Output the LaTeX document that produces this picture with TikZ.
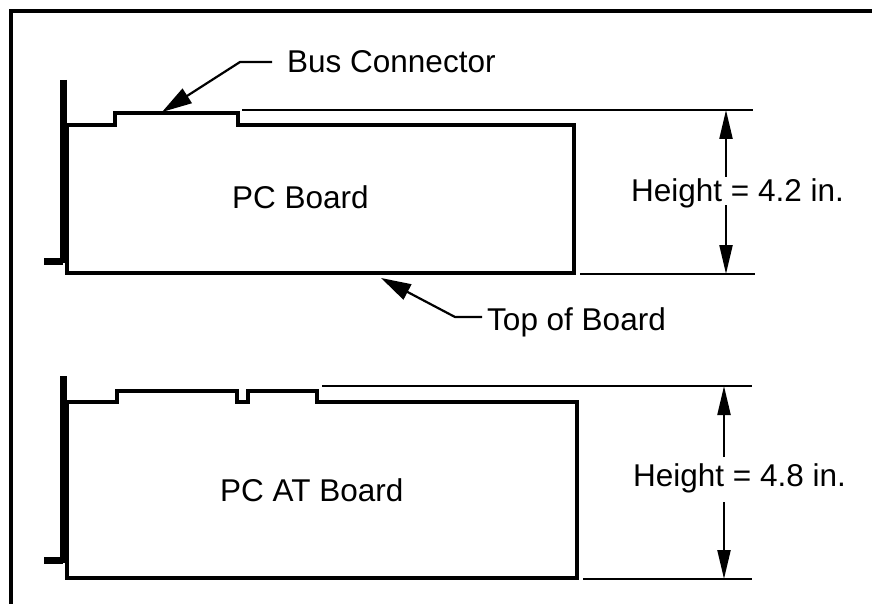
\documentclass[tikz,border=0pt]{standalone}
\usepackage{fontspec}
\setmainfont{Liberation Sans}
\usetikzlibrary{arrows.meta}
\tikzset{
  board/.style={line width=3.5pt, line join=miter},
  bracket/.style={line width=7pt},
  extline/.style={line width=2.2pt},
  leader/.style={line width=2.2pt, -{Triangle[length=30pt,width=17pt]}},
  dimarrow/.style={line width=2.2pt, -{Triangle[length=29pt,width=13pt]}},
  label/.style={inner sep=0pt, anchor=base west, font=\fontsize{31.5}{36}\selectfont},
}
\begin{document}
\begin{tikzpicture}[x=1pt, y=-1pt]
\useasboundingbox (0,0) rectangle (872,604);
% frame
\draw[line width=3.5pt] (11,620) -- (11,11) -- (880,11);

% PC board
\draw[bracket] (63,80) -- (63,263);
\draw[bracket] (44,261) -- (63,261);
\draw[board] (67,125) -- (115,125) -- (115,113) -- (238,113) -- (238,125)
  -- (574,125) -- (574,273) -- (67,273) -- cycle;
\node[label] (pc) at (232,208) {PC Board};

% PC AT board
\draw[bracket] (63,376) -- (63,563);
\draw[bracket] (44,560) -- (63,560);
\draw[board] (67,402) -- (117,402) -- (117,391) -- (237,391) -- (237,402)
  -- (248,402) -- (248,391) -- (317,391) -- (317,402)
  -- (577,402) -- (577,578) -- (67,578) -- cycle;
\node[label] (pcat) at (220,501) {PC AT Board};

% bus connector
\node[label] (bus) at (287,73) {Bus Connector};
\coordinate (busbend) at (240,62);
\coordinate (bustip) at (162,112);
\draw[leader] (bus.west |- busbend) ++(-15,0) -- (busbend) -- (bustip);

% top of board
\node[label] (top) at (487,330) {Top of Board};
\coordinate (topbend) at (455,317);
\coordinate (toptip) at (381,278);
\draw[leader] (top.west |- topbend) ++(-5,0) -- (topbend) -- (toptip);

% height 4.2
\coordinate (e1a) at (242,110);
\coordinate (e1b) at (753,110);
\coordinate (e1c) at (580,274);
\coordinate (e1d) at (755,274);
\draw[extline] (e1a) -- (e1b);
\draw[extline] (e1c) -- (e1d);
\node[label] (h1) at (631,201) {Height = 4.2 in.};
\coordinate (d1a) at (726,177);
\coordinate (d1b) at (726,205);
\draw[dimarrow] (d1a) -- (d1a |- e1b);
\draw[dimarrow] (d1b) -- (d1b |- e1d);

% height 4.8
\coordinate (e2a) at (322,386);
\coordinate (e2b) at (752,386);
\coordinate (e2c) at (583,579);
\coordinate (e2d) at (752,579);
\draw[extline] (e2a) -- (e2b);
\draw[extline] (e2c) -- (e2d);
\node[label] (h2) at (633,486) {Height = 4.8 in.};
\coordinate (d2a) at (724,457);
\coordinate (d2b) at (724,502);
\draw[dimarrow] (d2a) -- (d2a |- e2b);
\draw[dimarrow] (d2b) -- (d2b |- e2d);
\end{tikzpicture}
\end{document}
